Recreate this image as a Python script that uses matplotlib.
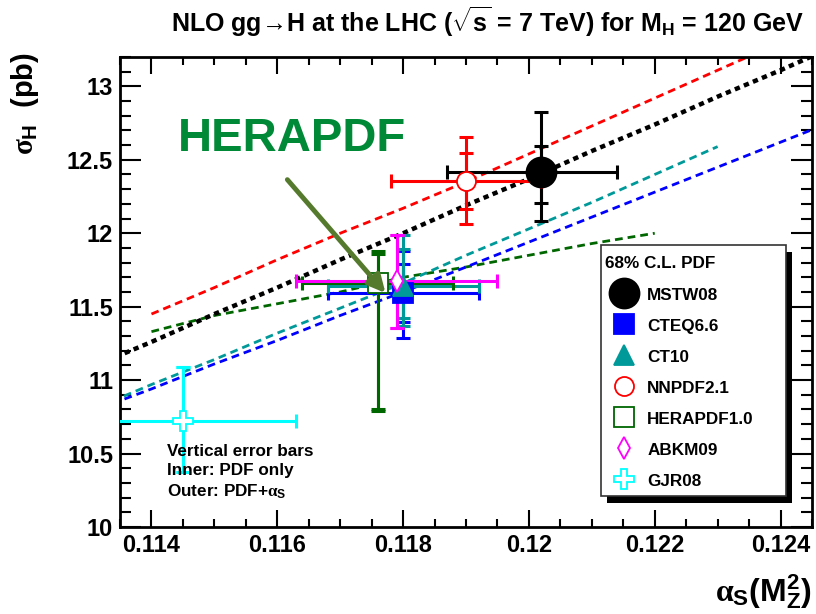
import matplotlib
matplotlib.use("Agg")
import matplotlib.pyplot as plt
from matplotlib.patches import Rectangle
from matplotlib.ticker import MultipleLocator, FuncFormatter

plt.rcParams["font.family"] = ["Liberation Sans", "DejaVu Sans"]
plt.rcParams["font.weight"] = "bold"
plt.rcParams["mathtext.fontset"] = "custom"
plt.rcParams["mathtext.rm"] = "Liberation Sans:bold"
plt.rcParams["mathtext.bf"] = "Liberation Sans:bold"
plt.rcParams["mathtext.sf"] = "Liberation Sans:bold"
plt.rcParams["mathtext.it"] = "Liberation Serif"

# sigma_H (pb) as a function of alpha_S(M_Z^2) for each PDF set
mstw_as = [0.113, 0.114, 0.115, 0.116, 0.117, 0.118, 0.119, 0.120, 0.121, 0.122, 0.123, 0.124, 0.125]
mstw_xs = [11.08, 11.26, 11.45, 11.63, 11.82, 12.00, 12.19, 12.37, 12.56, 12.74, 12.93, 13.11, 13.30]
cteq_as = [0.113, 0.114, 0.115, 0.116, 0.117, 0.118, 0.119, 0.120, 0.121, 0.122, 0.123, 0.124, 0.125]
cteq_xs = [10.78, 10.94, 11.11, 11.27, 11.44, 11.60, 11.77, 11.94, 12.11, 12.28, 12.45, 12.62, 12.79]
ct10_as = [0.113, 0.114, 0.115, 0.116, 0.117, 0.118, 0.119, 0.120, 0.121, 0.122, 0.123]
ct10_xs = [10.79, 10.97, 11.14, 11.32, 11.49, 11.66, 11.85, 12.03, 12.21, 12.40, 12.59]
nnpdf_as = [0.114, 0.115, 0.116, 0.117, 0.118, 0.119, 0.120, 0.121, 0.122, 0.123, 0.124]
nnpdf_xs = [11.45, 11.63, 11.82, 12.00, 12.17, 12.35, 12.54, 12.73, 12.92, 13.11, 13.30]
hera_as = [0.114, 0.115, 0.116, 0.117, 0.118, 0.119, 0.120, 0.121, 0.122]
hera_xs = [11.33, 11.44, 11.52, 11.60, 11.70, 11.77, 11.85, 11.93, 12.00]

# best-fit points: alpha_S (-err, +err), sigma, inner PDF-only (-,+), outer PDF+alpha_S (-,+)
names = ["MSTW08", "CTEQ6.6", "CT10", "NNPDF2.1", "HERAPDF1.0", "ABKM09", "GJR08"]
pt_as = [0.1202, 0.1180, 0.1180, 0.1190, 0.1176, 0.1179, 0.1145]
pt_as_lo = [0.0015, 0.0012, 0.0012, 0.0012, 0.0012, 0.0016, 0.0018]
pt_as_hi = [0.0012, 0.0012, 0.0012, 0.0012, 0.0012, 0.0016, 0.0018]
pt_xs = [12.415, 11.593, 11.640, 12.355, 11.660, 11.672, 10.722]
inner_lo = [0.208, 0.200, 0.220, 0.190, 0.860, 0.316, 0.345]
inner_hi = [0.177, 0.200, 0.250, 0.190, 0.200, 0.315, 0.366]
outer_lo = [0.333, 0.305, 0.270, 0.290, 0.870, 0.316, 0.345]
outer_hi = [0.410, 0.285, 0.345, 0.300, 0.220, 0.315, 0.366]

colors = ["black", "#0000ff", "#009999", "#ff0000", "#006600", "#ff00ff", "#00ffff"]
markers = ["o", "s", "^", "o", "s", "d", "P"]
msizes = [21.6, 13.7, 13.7, 13.7, 14.2, 10.7, 14.0]
filled = [True, True, True, False, False, False, False]

fig = plt.figure(figsize=(8.16, 6.14), dpi=100)
ax = fig.add_axes([120 / 816, 87 / 614, 692 / 816, 470 / 614])

# NLO cross-section curves
ax.plot(hera_as, hera_xs, color="#006600", lw=2.0, dashes=(2.8, 1.8))
ax.plot(cteq_as, cteq_xs, color="#0000ff", lw=2.0, dashes=(2.8, 1.8))
ax.plot(ct10_as, ct10_xs, color="#009999", lw=2.0, dashes=(2.8, 1.8))
ax.plot(nnpdf_as, nnpdf_xs, color="#ff0000", lw=2.0, dashes=(2.8, 1.8))
ax.plot(mstw_as, mstw_xs, color="black", lw=3.2, dashes=(1.2, 1.0))

# error bars and markers
for i in range(len(names)):
    c = colors[i]
    ax.errorbar(pt_as[i], pt_xs[i],
                xerr=[[pt_as_lo[i]], [pt_as_hi[i]]],
                yerr=[[outer_lo[i]], [outer_hi[i]]],
                fmt="none", ecolor=c, elinewidth=2.2, capsize=4.7, capthick=2.2, zorder=4)
    ax.errorbar(pt_as[i], pt_xs[i], yerr=[[inner_lo[i]], [inner_hi[i]]],
                fmt="none", ecolor=c, elinewidth=2.2, capsize=4.7, capthick=2.2, zorder=4)
    ax.plot(pt_as[i], pt_xs[i], marker=markers[i], ms=msizes[i], ls="none",
            mfc=c if filled[i] else "white", mec=c, mew=1.3, zorder=5)

ax.set_xlim(0.1135, 0.1245)
ax.set_ylim(10.0, 13.2)
ax.xaxis.set_major_locator(MultipleLocator(0.002))
ax.xaxis.set_minor_locator(MultipleLocator(0.0005))
ax.yaxis.set_major_locator(MultipleLocator(0.5))
ax.yaxis.set_minor_locator(MultipleLocator(0.1))
fmt = FuncFormatter(lambda v, p: "%g" % round(v, 4))
ax.xaxis.set_major_formatter(fmt)
ax.yaxis.set_major_formatter(fmt)
ax.tick_params(which="both", direction="in", top=True, right=True, width=1.5,
               labelsize=17)
ax.tick_params(axis="x", which="major", length=12, pad=5)
ax.tick_params(axis="x", which="minor", length=6)
ax.tick_params(axis="y", which="major", length=15, pad=5)
ax.tick_params(axis="y", which="minor", length=8)
for sp in ax.spines.values():
    sp.set_linewidth(2)

# HERAPDF label and arrow
ax.text(0.11442, 12.558, "HERAPDF", color="#008a37", fontsize=34,
        fontweight="bold", va="baseline", ha="left")
ax.annotate("", xy=(0.11772, 11.593), xytext=(0.11616, 12.365),
            arrowprops=dict(arrowstyle="-|>", color="#557a2d", lw=3.5,
                            mutation_scale=26, shrinkA=0, shrinkB=0),
            zorder=6)

# note on the vertical error bars
ax.text(0.0675, 0.151, "Vertical error bars", transform=ax.transAxes,
        fontsize=12.3, va="baseline", zorder=6)
ax.text(0.0675, 0.111, "Inner: PDF only", transform=ax.transAxes,
        fontsize=12.3, va="baseline", zorder=6)
ax.text(0.0675, 0.0645, r"Outer: PDF+$\alpha_{\mathbf{S}}$", transform=ax.transAxes,
        fontsize=12.3, va="baseline", zorder=6)

# legend box with shadow
bx0, by0, bw, bh = 0.6951, 0.066, 0.2669, 0.534
ax.add_patch(Rectangle((bx0 + 0.0087, by0 - 0.0149), bw, bh, transform=ax.transAxes,
                       facecolor="black", lw=0, zorder=7, clip_on=False))
ax.add_patch(Rectangle((bx0, by0), bw, bh, transform=ax.transAxes,
                       facecolor="white", edgecolor="#333333", lw=1.2, zorder=8,
                       clip_on=False))
ax.text(0.7009, 0.5504, "68% C.L. PDF", transform=ax.transAxes, fontsize=12.3,
        va="baseline", zorder=9)
for i in range(len(names)):
    c = colors[i]
    ym = 0.4972 - 0.066 * i
    ax.plot(0.7283, ym, marker=markers[i], ms=msizes[i], transform=ax.transAxes,
            mfc=c if filled[i] else "white", mec=c, mew=1.3, ls="none", zorder=9,
            clip_on=False)
    ax.text(0.762, ym - 0.014, names[i], transform=ax.transAxes, fontsize=12.3,
            va="baseline", zorder=9)

# titles
fig.text(487 / 816, 1 - 32 / 614,
         r"NLO gg→H at the LHC ($\sqrt{\mathbf{s}}$ = 7 TeV) for M$_{\mathbf{H}}$ = 120 GeV",
         ha="center", va="baseline", fontsize=18)
fig.text(25 / 816, 1 - 104 / 614, r"$\sigma_{\mathbf{H}}$  (pb)", rotation=90,
         ha="center", va="center", fontsize=21)
fig.text(812 / 816, 1 - 592 / 614, r"$\alpha_{\mathbf{S}}(\mathbf{M}_{\mathbf{Z}}^{\mathbf{2}})$",
         ha="right", va="center", fontsize=23)

fig.savefig("out.png", dpi=100)
